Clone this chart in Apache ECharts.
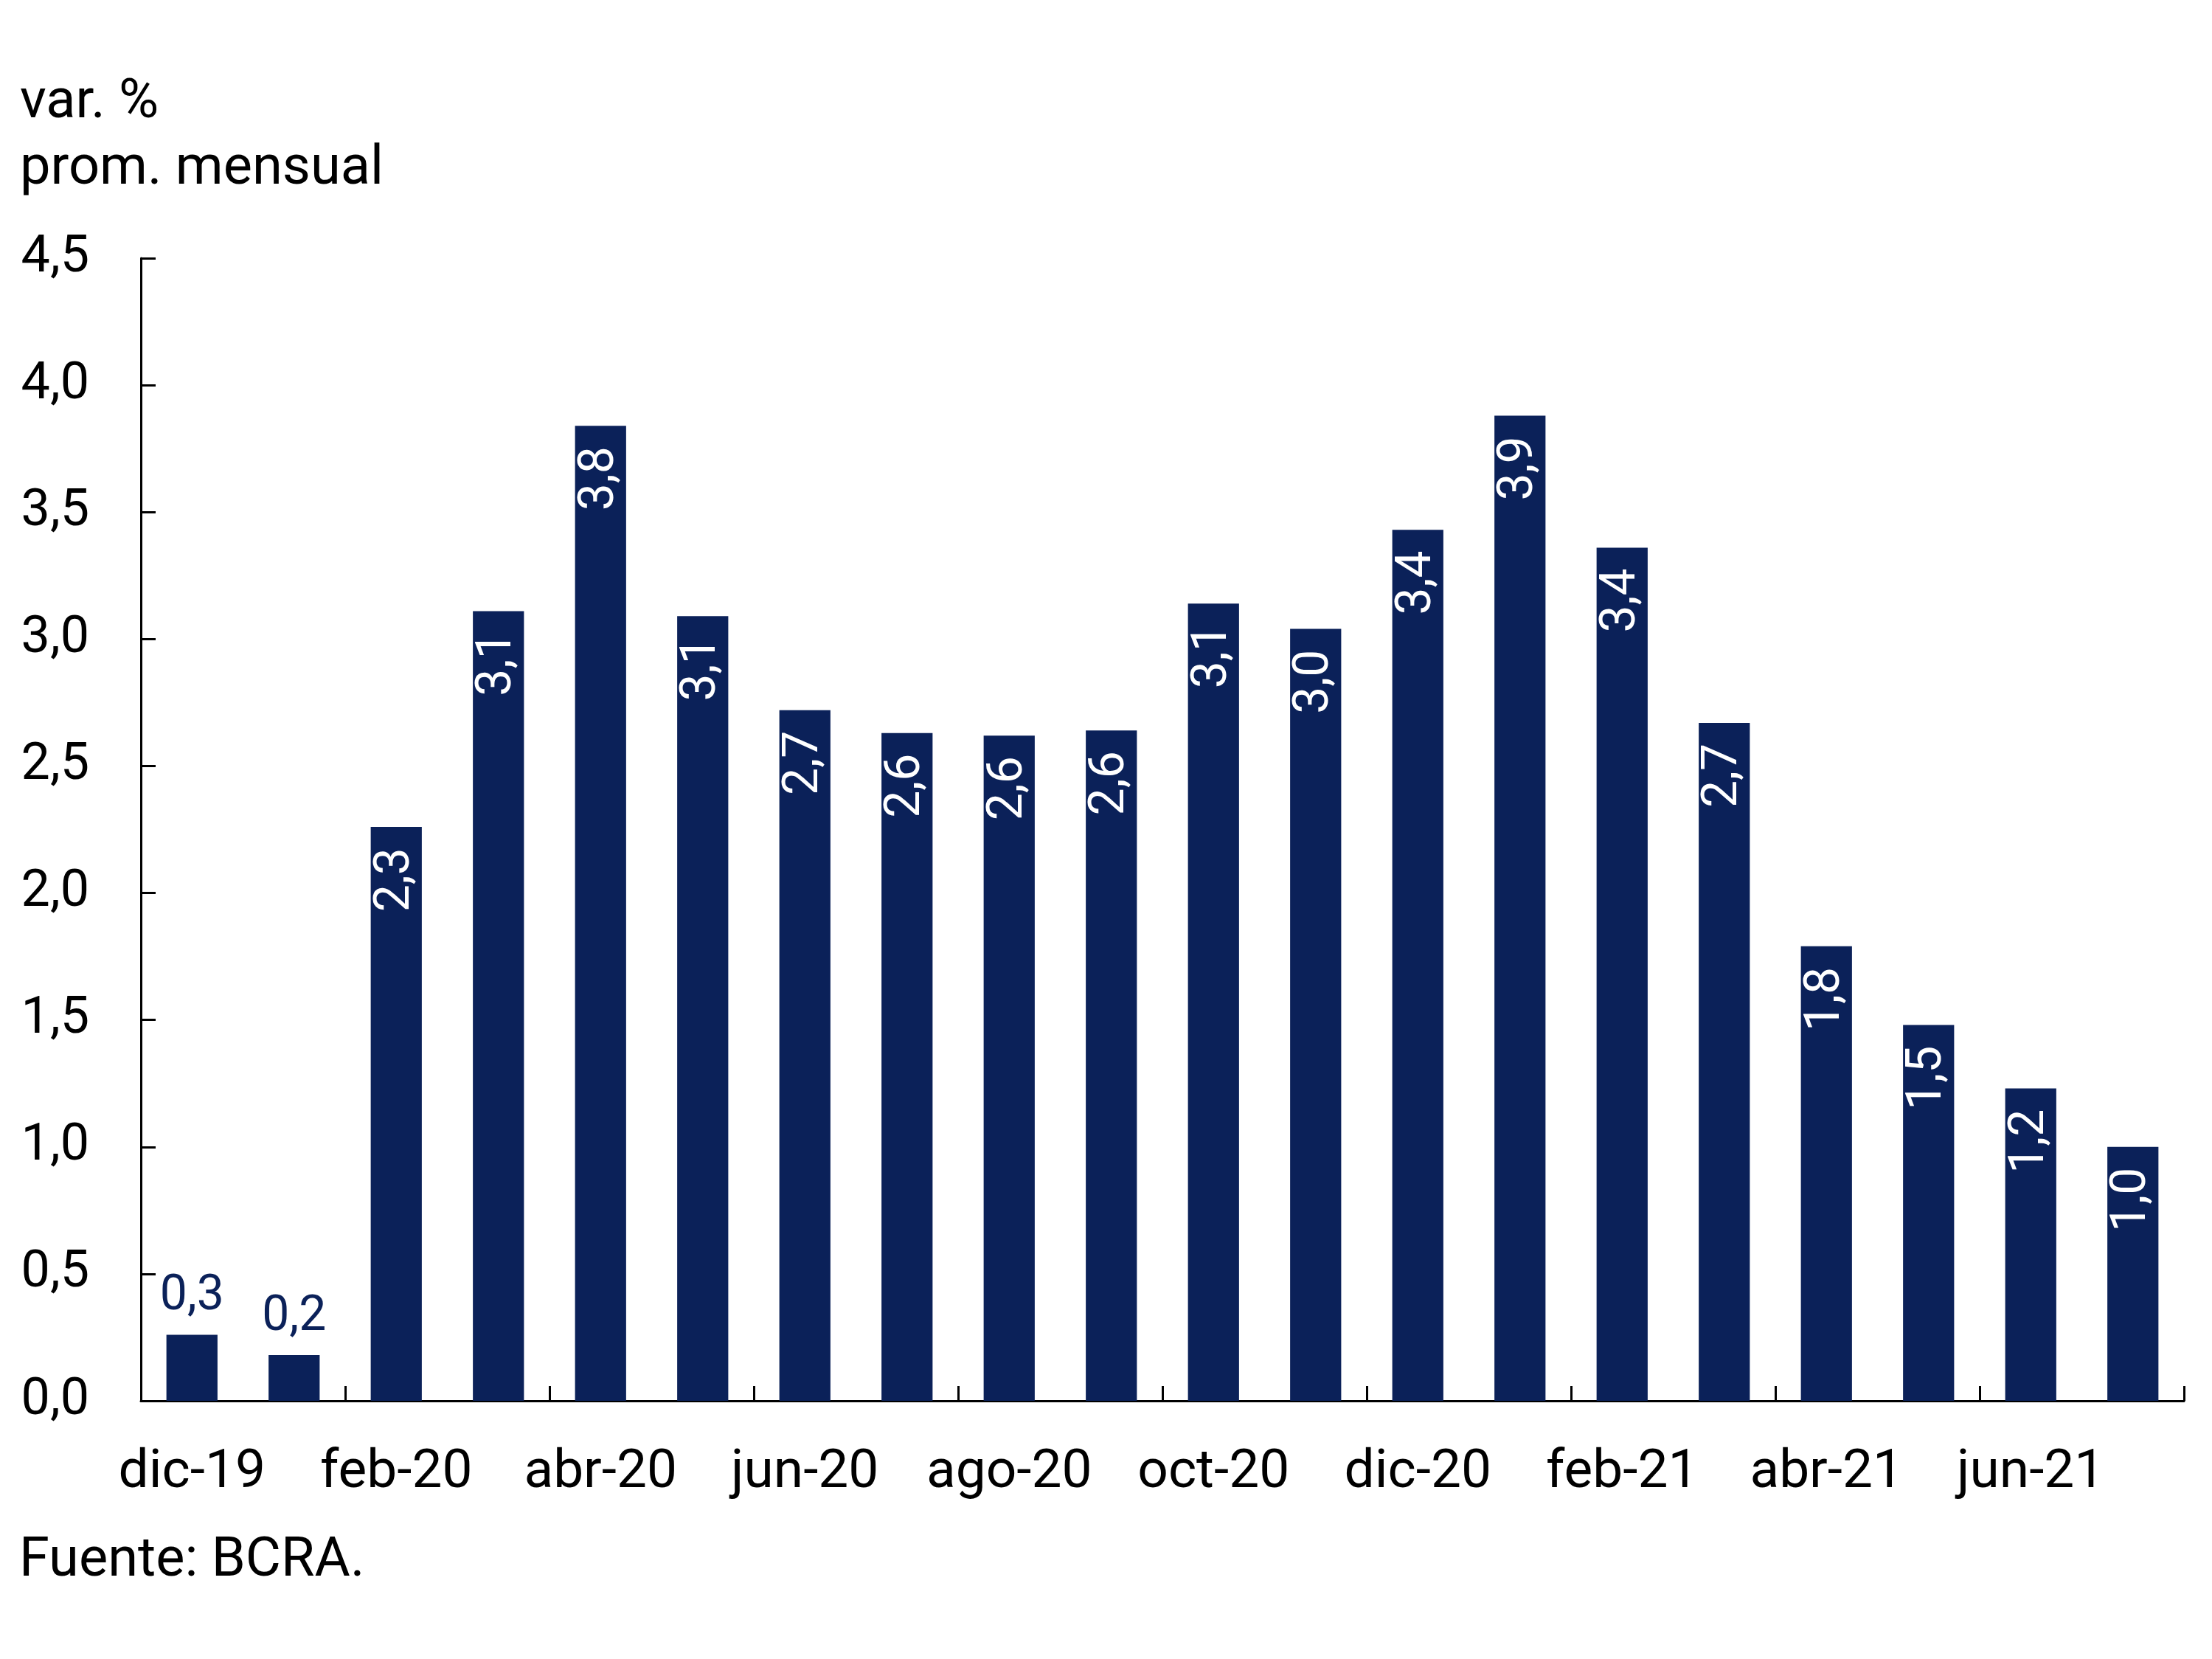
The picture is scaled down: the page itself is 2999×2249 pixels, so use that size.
<!DOCTYPE html>
<html>
<head>
<meta charset="utf-8">
<script src="https://cdn.jsdelivr.net/npm/echarts@6/dist/echarts.min.js"></script>
<style>
html,body{margin:0;padding:0;background:#fff;}
#chart{width:2999px;height:2249px;}
</style>
</head>
<body>
<div id="chart"></div>
<script>
const categories = ['dic-19','ene-20','feb-20','mar-20','abr-20','may-20','jun-20','jul-20','ago-20','sep-20','oct-20','nov-20','dic-20','ene-21','feb-21','mar-21','abr-21','may-21','jun-21','jul-21'];
const values = [0.26, 0.18, 2.26, 3.11, 3.84, 3.09, 2.72, 2.63, 2.62, 2.64, 3.14, 3.04, 3.43, 3.88, 3.36, 2.67, 1.79, 1.48, 1.23, 1.00];
const yTicks = [0, 0.5, 1, 1.5, 2, 2.5, 3, 3.5, 4, 4.5];
const yTitle = 'var. %\nprom. mensual';
const source = 'Fuente: BCRA.';

const NAVY = '#0B2159';
const FONT = 'Roboto';
const fmt = v => v.toFixed(1).replace('.', ',');

const chart = echarts.init(document.getElementById('chart'), null, {renderer: 'canvas'});

const data = values.map(v => {
  const outside = v < 0.5;
  return {
    value: v,
    label: outside ? {
      position: 'top', rotate: 0, color: NAVY, distance: 18,
      align: 'center', verticalAlign: 'bottom'
    } : {
      position: 'insideTop', rotate: 90, color: '#ffffff', distance: 28,
      align: 'right', verticalAlign: 'middle'
    }
  };
});

chart.setOption({
  animation: false,
  backgroundColor: '#ffffff',
  textStyle: {fontFamily: FONT},
  title: {
    text: yTitle,
    left: 22, top: 90,
    textStyle: {fontFamily: FONT, fontSize: 74, fontWeight: 'normal', color: '#000', lineHeight: 90}
  },
  graphic: [{
    type: 'text', left: 26, top: 2080,
    style: {text: source, font: '74px Roboto', fill: '#000'}
  }],
  grid: {left: 191, right: 38, top: 350, bottom: 350, containLabel: false},
  xAxis: {
    type: 'category',
    data: categories,
    boundaryGap: true,
    axisLine: {lineStyle: {color: '#000', width: 3}},
    axisTick: {show: true, inside: true, length: 20, interval: 1, alignWithLabel: false, lineStyle: {color: '#000', width: 3}},
    axisLabel: {interval: 1, margin: 62, fontSize: 73, color: '#000', fontFamily: FONT},
    splitLine: {show: false}
  },
  yAxis: {
    type: 'value',
    min: yTicks[0], max: yTicks[yTicks.length - 1], interval: 0.5,
    axisLine: {show: true, lineStyle: {color: '#000', width: 3}},
    axisTick: {show: true, inside: true, length: 20, lineStyle: {color: '#000', width: 3}},
    axisLabel: {margin: 70, fontSize: 70, color: '#000', fontFamily: FONT, formatter: v => fmt(v)},
    splitLine: {show: false}
  },
  series: [{
    type: 'bar',
    data: data,
    barWidth: '50%',
    itemStyle: {color: NAVY},
    label: {show: true, fontSize: 66, fontFamily: FONT, formatter: p => fmt(p.value)}
  }]
});
</script>
</body>
</html>
